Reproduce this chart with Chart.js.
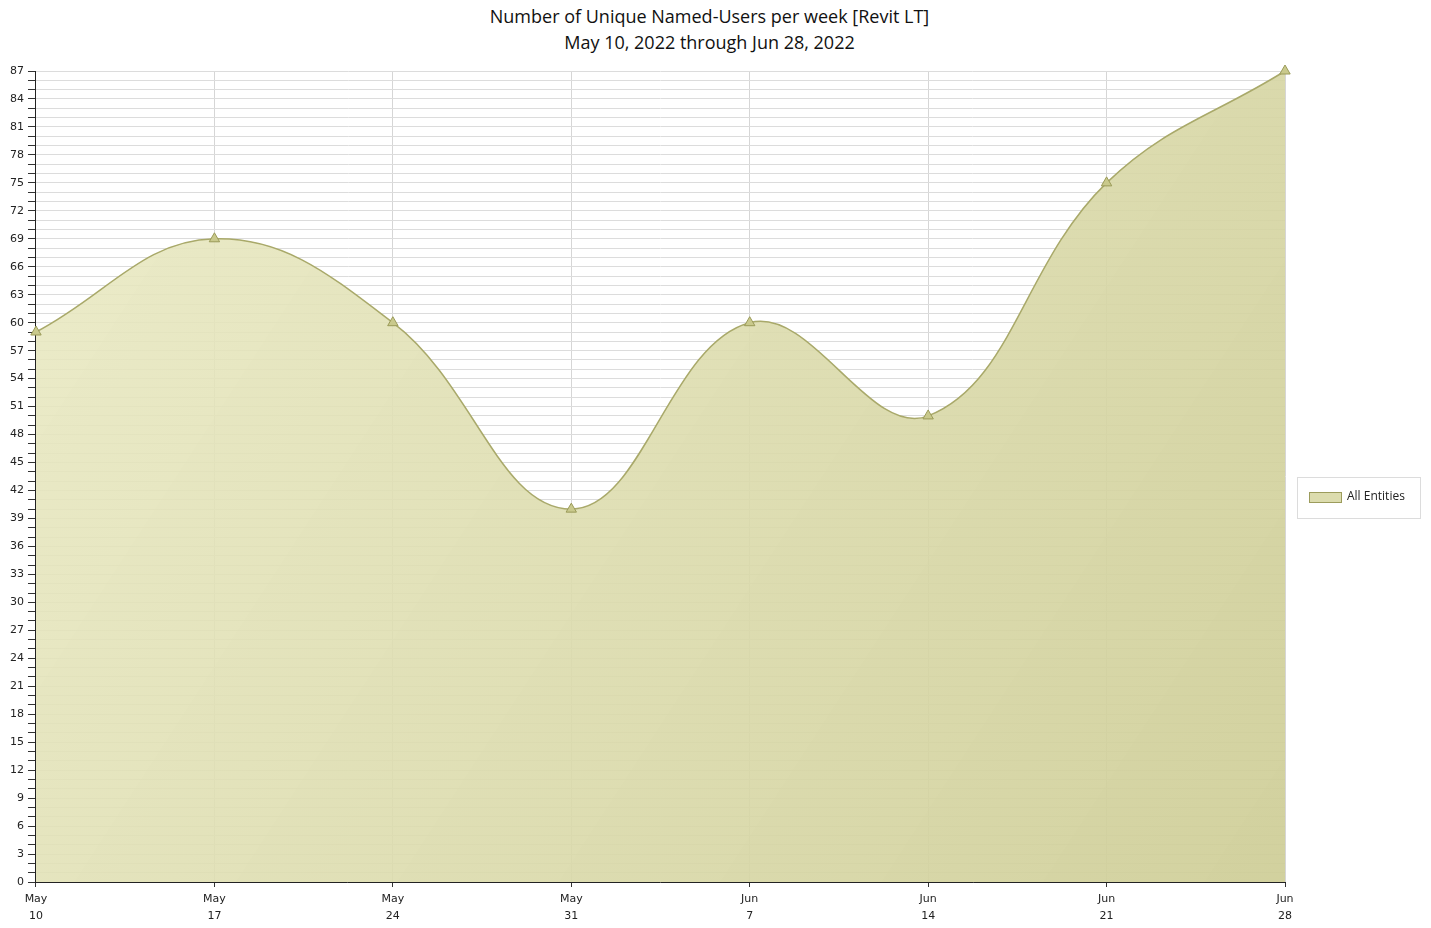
<!DOCTYPE html>
<html>
<head>
<meta charset="utf-8">
<script src="https://cdn.jsdelivr.net/npm/chart.js@4"></script>
<style>
  html, body { margin: 0; padding: 0; background: #fff; }
  #title { width: 1419px; height: 56px; text-align: center; font: 18px/26px 'Open Sans', sans-serif; color: #111; padding-top: 3px; box-sizing: border-box; }
  #wrap { width: 1431px; height: 872px; }
</style>
</head>
<body>
<div id="title"></div>
<div id="wrap"><canvas id="usersChart"></canvas></div>
<script>
const weekLabels = [["May", "10"], ["May", "17"], ["May", "24"], ["May", "31"], ["Jun", "7"], ["Jun", "14"], ["Jun", "21"], ["Jun", "28"]];
const uniqueUsers = [59, 69, 60, 40, 60, 50, 75, 87];
const seriesName = "All Entities";
const titleLines = ["Number of Unique Named-Users per week [Revit LT]", "May 10, 2022 through Jun 28, 2022"];

document.getElementById("title").innerHTML = titleLines.join("<br>");

// diagonal light-to-dark olive fill across the plot area
function areaFill(context) {
  const chart = context.chart;
  const a = chart.chartArea;
  if (!a) return "#dfdfb0";
  const g = chart.ctx.createLinearGradient(a.left, a.top, a.right, a.bottom);
  g.addColorStop(0, "rgba(234,234,196,0.88)");
  g.addColorStop(1, "rgba(206,205,150,0.92)");
  return g;
}

// boxed legend to the right of the plot
const boxedLegend = {
  id: "boxedLegend",
  afterDraw(chart) {
    const ctx = chart.ctx;
    const a = chart.chartArea;
    const x = a.right + 12, w = 123, h = 41;
    const y = (a.top + a.bottom) / 2 + 21 - h / 2;
    ctx.save();
    ctx.strokeStyle = "#dcdcdc";
    ctx.lineWidth = 1;
    ctx.strokeRect(x + 0.5, y + 0.5, w, h);
    ctx.fillStyle = "#dcdcae";
    ctx.fillRect(x + 12, y + 15, 32, 10);
    ctx.strokeStyle = "#9c9c5c";
    ctx.strokeRect(x + 12.5, y + 15.5, 32, 10);
    ctx.fillStyle = "#222";
    ctx.font = "12px 'Open Sans'";
    ctx.textBaseline = "middle";
    ctx.fillText(seriesName, x + 50, y + 20);
    ctx.restore();
  }
};

new Chart(document.getElementById("usersChart"), {
  type: "line",
  data: {
    labels: weekLabels,
    datasets: [{
      label: seriesName,
      data: uniqueUsers,
      fill: "origin",
      clip: false,
      backgroundColor: areaFill,
      borderColor: "#a9a96a",
      borderWidth: 1.5,
      tension: 0.4,
      pointStyle: "triangle",
      pointRadius: 6,
      pointBackgroundColor: "#c9c98c",
      pointBorderColor: "#9a9a58",
      pointBorderWidth: 1
    }]
  },
  options: {
    responsive: true,
    maintainAspectRatio: false,
    animation: false,
    layout: { padding: { left: 6, right: 146, top: 15, bottom: 0 } },
    plugins: {
      legend: { display: false },
      tooltip: { enabled: false }
    },
    scales: {
      x: {
        offset: false,
        grid: { color: "#d6d6d6", tickColor: "#333", tickLength: 5, drawTicks: true },
        border: { color: "#222", width: 1 },
        ticks: {
          color: "#222",
          font: { family: "'DejaVu Sans'", size: 11, lineHeight: 1.5 },
          maxRotation: 0,
          autoSkip: false,
          padding: 4
        }
      },
      y: {
        min: 0,
        max: 87,
        grid: { color: "#dcdcdc", tickColor: "#333", tickLength: 8 },
        border: { color: "#222", width: 1 },
        ticks: {
          stepSize: 1,
          autoSkip: false,
          color: "#222",
          font: { family: "'DejaVu Sans'", size: 11 },
          padding: 4,
          callback: (v) => (v % 3 === 0 ? v : "")
        }
      }
    }
  },
  plugins: [boxedLegend]
});
</script>
</body>
</html>
